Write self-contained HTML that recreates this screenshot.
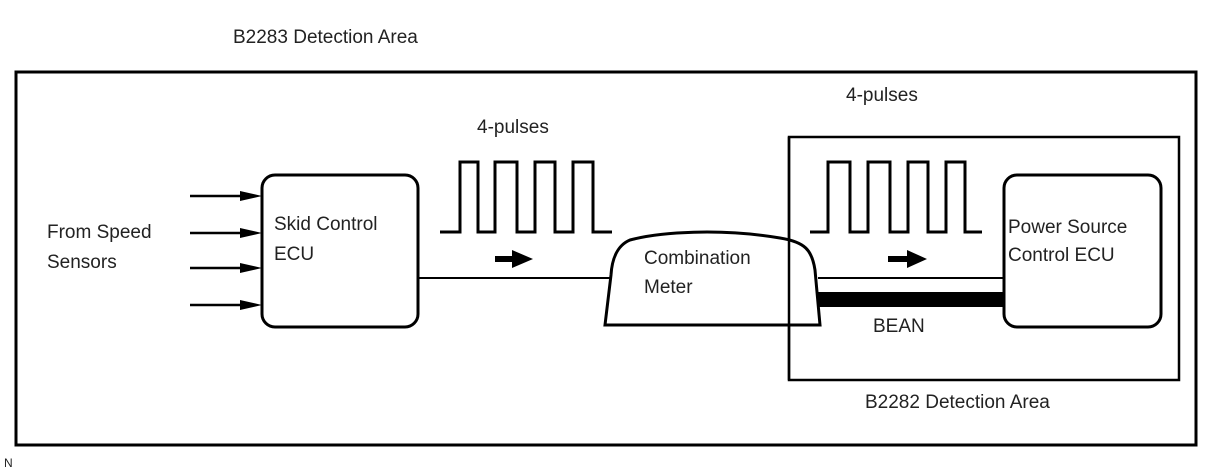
<!DOCTYPE html>
<html><head><style>
body{margin:0;background:#fff;}
svg{display:block;font-family:"Liberation Sans",Arial,sans-serif;}
</style></head><body>
<svg width="1210" height="474" viewBox="0 0 1210 474">
<g fill="none" stroke="#000">
<rect x="16" y="72" width="1180" height="373" stroke-width="3"/>
<rect x="789" y="137" width="390" height="243" stroke-width="2.5"/>
<rect x="262" y="175" width="156" height="152" rx="13" stroke-width="3"/>
<rect x="1004" y="175" width="157" height="152" rx="13" stroke-width="3"/>
<path d="M440 232H460V162H478V232H495V162H517V232H535V162H555V232H573V162H593V232H612" stroke-width="3"/>
<path d="M810 232H828V162H850V232H868V162H890V232H908V162H928V232H946V162H965V232H982" stroke-width="3"/>
<line x1="418" y1="278" x2="610" y2="278" stroke-width="2"/>
<line x1="818" y1="278" x2="1004" y2="278" stroke-width="2"/>
<path d="M605 325H820L815 270C812 250 805 242 780 238C720 228 660 232 630 240C618 245 612 258 611 275Z" fill="#fff" stroke-width="3"/>
<line x1="789" y1="137" x2="789" y2="380" stroke-width="2.5"/>
<g stroke-width="2.5">
<line x1="190" y1="196" x2="245" y2="196"/><line x1="190" y1="233" x2="245" y2="233"/>
<line x1="190" y1="268" x2="245" y2="268"/><line x1="190" y1="305" x2="245" y2="305"/>
<line x1="495" y1="259" x2="515" y2="259" stroke-width="6"/>
<line x1="888" y1="259" x2="910" y2="259" stroke-width="6"/>
</g>
</g>
<rect x="818" y="292" width="186" height="15" fill="#000"/>
<g fill="#000">
<path d="M240 191L262 196L240 201Z"/><path d="M240 228L262 233L240 238Z"/>
<path d="M240 263L262 268L240 273Z"/><path d="M240 300L262 305L240 310Z"/>
<path d="M512 250L533 259L512 268Z"/><path d="M907 250L927 259L907 268Z"/>
</g>
<g font-size="19" fill="#222">
<text x="233" y="43">B2283 Detection Area</text>
<text x="477" y="133">4-pulses</text>
<text x="846" y="101">4-pulses</text>
<text x="47" y="238">From Speed</text>
<text x="47" y="268">Sensors</text>
<text x="274" y="230">Skid Control</text>
<text x="274" y="260">ECU</text>
<text x="644" y="264">Combination</text>
<text x="644" y="293">Meter</text>
<text x="1008" y="233">Power Source</text>
<text x="1008" y="261">Control ECU</text>
<text x="873" y="332">BEAN</text>
<text x="865" y="408">B2282 Detection Area</text>
<text x="4" y="467" font-size="12">N</text>
</g>
</svg>
</body></html>
